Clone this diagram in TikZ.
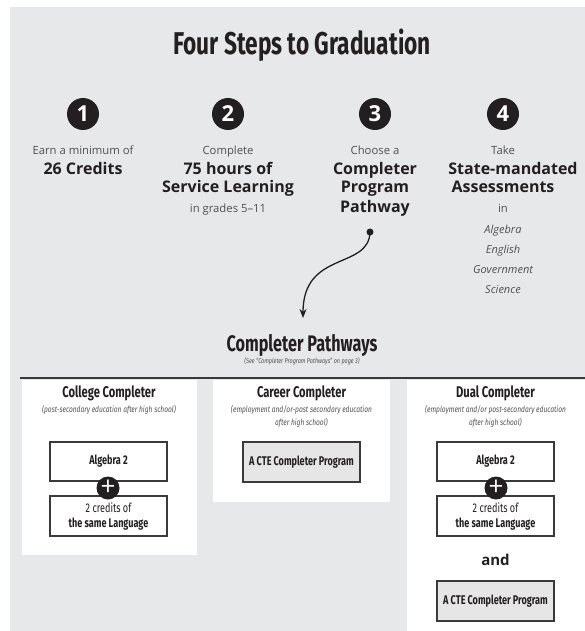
\documentclass[tikz,border=0pt]{standalone}
\usepackage{fontspec}
\setmainfont{Open Sans}
\newfontfamily\cond[FakeStretch=0.78]{Fira Sans}
\newfontfamily\condb[FakeStretch=0.72]{Fira Sans}
\usetikzlibrary{arrows.meta}
\definecolor{bg}{HTML}{E7E8E9}
\definecolor{txt}{HTML}{231F20}
\definecolor{lite}{HTML}{505052}
\definecolor{boxline}{HTML}{3A3A3A}
\definecolor{ctefill}{HTML}{E6E6E6}
\begin{document}
\begin{tikzpicture}[x=1pt,y=-1pt,
  every node/.style={inner sep=0pt, outer sep=0pt},
  num/.style={circle, fill=txt, minimum size=32pt, text=white, font=\bfseries\fontsize{22}{22}\selectfont},
  lt/.style={anchor=base, text=lite, font=\fontsize{11.3}{12}\selectfont},
  bd/.style={anchor=base, text=txt, font=\bfseries\fontsize{16}{18}\selectfont},
  it/.style={anchor=base, text=lite, font=\itshape\fontsize{11}{12}\selectfont},
  ptitle/.style={anchor=base, text=txt, font=\condb\bfseries\fontsize{15.5}{18}\selectfont},
  psub/.style={anchor=base, text=lite, font=\cond\itshape\fontsize{8.5}{10}\selectfont},
  reqbox/.style={draw=boxline, line width=1.2pt, fill=white, minimum width=117pt, minimum height=39pt, align=center, text=txt, font=\condb\bfseries\fontsize{12.6}{15}\selectfont},
  ctebox/.style={reqbox, fill=ctefill},
  plus/.style={circle, fill=txt, minimum size=23pt, text=white, font=\fontsize{26}{26}\selectfont}
]
\useasboundingbox (0,0) rectangle (585,631);
\fill[white] (0,0) rectangle (585,631);
\fill[bg] (10,7) rectangle (585,631);

% title
\node[anchor=base, text=txt, font=\condb\bfseries\fontsize{31.5}{33}\selectfont] (title) at (302,55) {Four Steps to Graduation};

% step numbers
\node[num] (n1) at (83,114) {1};
\node[num] (n2) at (228,114) {2};
\node[num] (n3) at (375,114) {3};
\node[num] (n4) at (503,114) {4};

% step 1
\node[lt] (s1a) at (83,155) {Earn a minimum of};
\node[bd] (s1b) at (83,175) {26 Credits};
% step 2
\node[lt] (s2a) at (228,155) {Complete};
\node[bd] (s2b) at (228,175) {75 hours of};
\node[bd] (s2c) at (228,193) {Service Learning};
\node[lt] (s2d) at (228,212) {in grades 5–11};
% step 3
\node[lt] (s3a) at (375,155) {Choose a};
\node[bd] (s3b) at (375,175) {Completer};
\node[bd] (s3c) at (375,193) {Program};
\node[bd] (s3d) at (375,212) {Pathway};
% step 4
\node[lt] (s4a) at (503,155) {Take};
\node[bd] (s4b) at (513,175) {State-mandated};
\node[bd] (s4c) at (503,193) {Assessments};
\node[lt] (s4d) at (503,212) {in};
\node[it] (s4e) at (503,233) {Algebra};
\node[it] (s4f) at (503,253) {English};
\node[it] (s4g) at (503,273) {Government};
\node[it] (s4h) at (503,293) {Science};

% arrow
\node[circle, fill=txt, minimum size=7pt] (dot) at (370,232) {};
\coordinate (tip) at (303,318);
\draw[txt, line width=1.3pt, -{Stealth[length=9pt,width=7pt]}] (dot.center) .. controls (369,270) and (303,250) .. (tip);

% completer pathways
\node[anchor=base, text=txt, font=\condb\bfseries\fontsize{22.5}{24}\selectfont] (cp) at (302,351) {Completer Pathways};
\node[anchor=base, text=lite, font=\cond\itshape\fontsize{7}{8}\selectfont] (cps) at (302,363) {(See “Completer Program Pathways” on page 3)};

\draw[boxline, line width=1.6pt] (20,378) -- (585,378);

% panels
\fill[white] (22,380) rectangle (197,555);
\fill[white] (213,380) rectangle (390,502);
\fill[white] (407,380) rectangle (585,631);

% college
\node[ptitle] (ct) at (109,397) {College Completer};
\node[psub] (cs) at (109,412) {(post-secondary education after high school)};
\node[reqbox] (ca) at (108.5,461.5) {Algebra 2};
\node[reqbox, minimum height=40pt] (cl) at (108.5,516) {\mdseries 2 credits of\\the same Language};
\node[plus] (cplus) at (108,488) {+};

% career
\node[ptitle] (kt) at (301.5,397) {Career Completer};
\node[psub] (ks1) at (301.5,412) {(employment and/or-post secondary education};
\node[psub] (ks2) at (301.5,425) {after high school)};
\node[ctebox, minimum height=40pt] (kc) at (301.5,462) {A CTE Completer Program};

% dual
\node[ptitle] (dt) at (495.5,397) {Dual Completer};
\node[psub] (ds1) at (495.5,412) {(employment and/or post-secondary education};
\node[psub] (ds2) at (495.5,425) {after high school)};
\node[reqbox] (da) at (495.5,461.5) {Algebra 2};
\node[reqbox, minimum height=40pt] (dl) at (495.5,516) {\mdseries 2 credits of\\the same Language};
\node[plus] (dplus) at (496,488) {+};
\node[anchor=base, text=txt, font=\bfseries\fontsize{15}{16}\selectfont] (and) at (495.5,565) {and};
\node[ctebox, minimum height=40pt] (dc) at (495.5,601) {A CTE Completer Program};
\end{tikzpicture}
\end{document}
